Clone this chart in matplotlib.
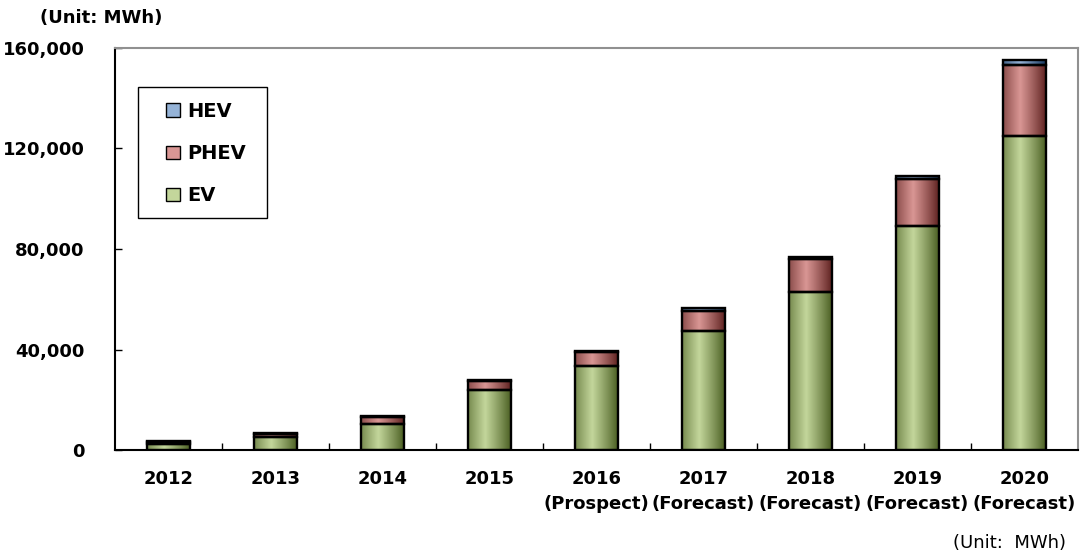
import numpy as np
import matplotlib.pyplot as plt
from matplotlib.colors import LinearSegmentedColormap
from matplotlib.patches import Patch, Rectangle

years = ["2012", "2013", "2014", "2015", "2016\n(Prospect)", "2017\n(Forecast)",
         "2018\n(Forecast)", "2019\n(Forecast)", "2020\n(Forecast)"]
ev = [2500, 5000, 10500, 24000, 33500, 47500, 63000, 89000, 125000]
phev = [700, 1300, 2600, 3500, 5500, 8000, 13000, 19000, 28000]
hev = [300, 400, 500, 500, 500, 1000, 800, 1200, 2000]

series = [("EV", ev, "#4A5E22", "#C3D69B"),
          ("PHEV", phev, "#5E2220", "#D99694"),
          ("HEV", hev, "#17375E", "#95B3D7")]

fig = plt.figure(figsize=(10.83, 5.57), dpi=100)
ax = fig.add_axes([0.1062, 0.192, 0.889, 0.722])

x = np.arange(len(years))
width = 0.4
bottom = np.zeros(len(years))

# horizontal shading across each bar: dark edges, light centre
t = np.linspace(0, 1, 64)
shade = np.clip(1 - np.abs(t - 0.4) / 0.6, 0, 1) ** 0.9
grad = shade[np.newaxis, :]

for name, vals, dark, light in series:
    cmap = LinearSegmentedColormap.from_list(name, [dark, light])
    bars = ax.bar(x, vals, width, bottom=bottom, facecolor="none",
                  edgecolor="black", linewidth=1.7, zorder=3)
    for rect in bars:
        rx, ry = rect.get_x(), rect.get_y()
        rw, rh = rect.get_width(), rect.get_height()
        ax.imshow(grad, extent=[rx, rx + rw, ry, ry + rh], aspect="auto",
                  cmap=cmap, vmin=0, vmax=1, zorder=2)
    bottom += np.array(vals)

ax.set_xlim(-0.5, len(years) - 0.5)
ax.set_ylim(0, 160000)
ax.set_aspect("auto")

ax.set_yticks(np.arange(0, 160001, 40000))
ax.set_yticklabels([f"{v:,}" for v in range(0, 160001, 40000)],
                   fontsize=13, fontweight="bold")
ax.set_xticks(x)
ax.set_xticklabels(years, fontsize=13, fontweight="bold", linespacing=1.5)
ax.tick_params(axis="x", length=0, pad=14)
ax.set_xticks(np.arange(0.5, len(years) - 1, 1), minor=True)
ax.tick_params(axis="x", which="minor", direction="in", length=5, width=1)
ax.tick_params(axis="y", direction="in", length=5, width=1, pad=22)

for side in ["left", "bottom"]:
    ax.spines[side].set_color("black")
    ax.spines[side].set_linewidth(1.5)
for side in ["top", "right"]:
    ax.spines[side].set_color("#909090")
    ax.spines[side].set_linewidth(1.5)

# legend box drawn separately so the entries can sit inset from the frame
ax.add_patch(Rectangle((0.0239, 0.577), 0.134, 0.326, transform=ax.transAxes,
                       facecolor="white", edgecolor="black", linewidth=1.0,
                       zorder=4))
handles = [Patch(facecolor=light, edgecolor="black", label=name)
           for name, vals, dark, light in series[::-1]]
leg = ax.legend(handles=handles, loc="upper left", bbox_to_anchor=(0.053, 0.866),
                prop={"weight": "bold", "size": 14}, frameon=False,
                handlelength=0.7, handleheight=0.7, handletextpad=0.4,
                labelspacing=1.2, borderpad=0, borderaxespad=0)
leg.set_zorder(5)

fig.text(0.037, 0.968, "(Unit: MWh)", fontsize=13, fontweight="bold",
         ha="left", va="center")
fig.text(0.984, 0.025, "(Unit:  MWh)", fontsize=13, ha="right", va="center")

fig.savefig("out.png", dpi=100)
